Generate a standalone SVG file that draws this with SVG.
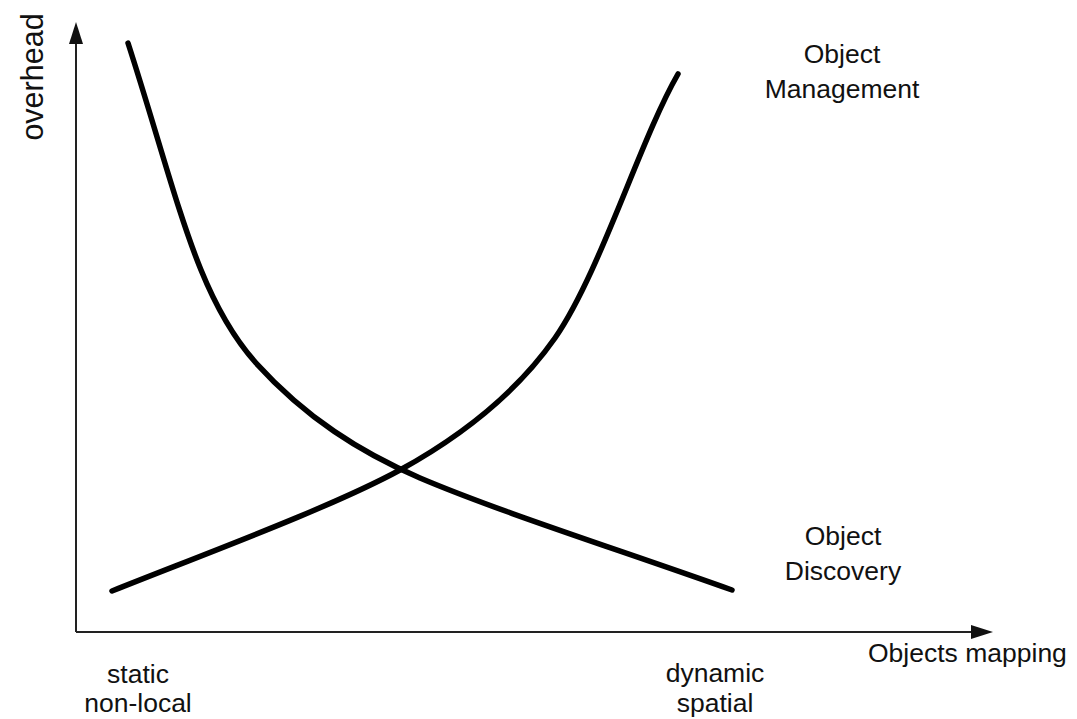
<svg xmlns="http://www.w3.org/2000/svg" width="1077" height="719" viewBox="0 0 1077 719">
<defs>
<style>
text{font-family:"Liberation Sans",Arial,Helvetica,sans-serif;fill:#111;font-size:26.5px}
.axis{stroke:#222;stroke-width:2;fill:none}
.head{fill:#111;stroke:none}
.curve{stroke:#000;stroke-width:5.5;fill:none;stroke-linecap:round;stroke-linejoin:round}
.c{text-anchor:middle}
</style>
</defs>
<rect width="1077" height="719" fill="#fff"/>
<g id="axes">
<path class="axis" d="M76,632 L76,42 M76,632 L973,632"/>
<polygon class="head" points="76,22 69,44 83,44"/>
<polygon class="head" points="993,632 971,625 971,639"/>
</g>
<g id="connectors">
<path id="discovery-curve" class="curve" d="M128,43 C178,198 196,296 256,363 C306,418 360,452 420,478 C500,512 620,550 732,590"/>
<path id="management-curve" class="curve" d="M112,591 C202,555 330,508 400,470 C460,437 515,395 555,338 C600,273 640,140 678,74"/>
</g>
<g id="y-label"><text class="c" transform="translate(43,77) rotate(-90)" style="font-size:30.5px">overhead</text></g>
<g id="x-label"><text x="868" y="662">Objects mapping</text></g>
<g id="left-label"><text class="c" x="138" y="683">static</text><text class="c" x="138" y="712">non-local</text></g>
<g id="right-label"><text class="c" x="715" y="682">dynamic</text><text class="c" x="715" y="712">spatial</text></g>
<g id="management-label"><text class="c" x="842" y="63">Object</text><text class="c" x="842" y="98">Management</text></g>
<g id="discovery-label"><text class="c" x="843" y="545">Object</text><text class="c" x="843" y="580">Discovery</text></g>
</svg>
